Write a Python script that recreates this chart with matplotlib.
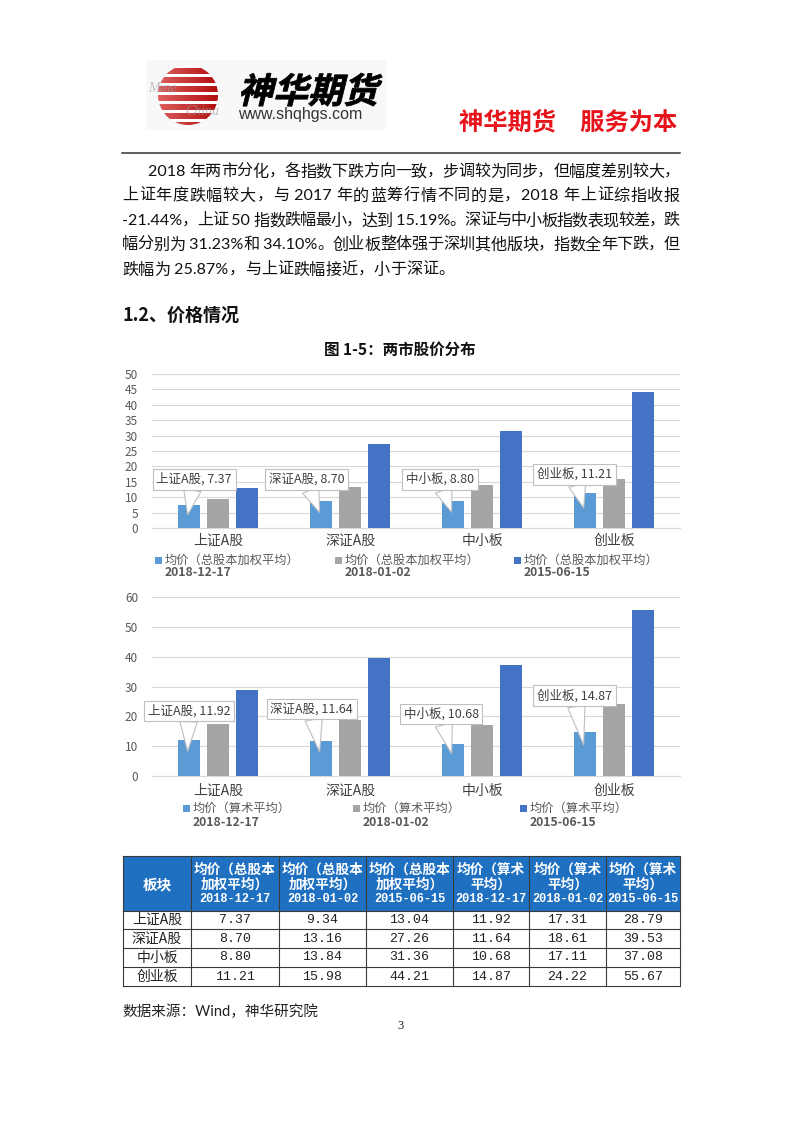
import re
import numpy as np
import matplotlib
matplotlib.use("Agg")
import matplotlib.pyplot as plt
from matplotlib.patches import Rectangle, Circle, PathPatch
from matplotlib.textpath import TextPath
from matplotlib.font_manager import FontProperties
from matplotlib.transforms import Affine2D

plt.rcParams['font.family'] = ['Noto Sans CJK SC', 'DejaVu Sans']
plt.rcParams['axes.unicode_minus'] = False

# 数据
categories = ['上证A股', '深证A股', '中小板', '创业板']
dates = ['2018-12-17', '2018-01-02', '2015-06-15']
weighted_name = '均价（总股本加权平均）'
arith_name = '均价（算术平均）'
weighted_1217 = [7.37, 8.70, 8.80, 11.21]
weighted_0102 = [9.34, 13.16, 13.84, 15.98]
weighted_0615 = [13.04, 27.26, 31.36, 44.21]
arith_1217 = [11.92, 11.64, 10.68, 14.87]
arith_0102 = [17.31, 18.61, 17.11, 24.22]
arith_0615 = [28.79, 39.53, 37.08, 55.67]

table_head = ['均价（总股本\n加权平均）'] * 3 + ['均价（算术\n平均）'] * 3
table_dates = dates * 2

paragraph = ['2018 年两市分化，各指数下跌方向一致，步调较为同步，但幅度差别较大，',
             '上证年度跌幅较大，与 2017 年的蓝筹行情不同的是，2018 年上证综指收报',
             '-21.44%，上证 50 指数跌幅最小，达到 15.19%。深证与中小板指数表现较差，跌',
             '幅分别为 31.23%和 34.10%。创业板整体强于深圳其他版块，指数全年下跌，但',
             '跌幅为 25.87%，与上证跌幅接近，小于深证。']

colors = ['#5B9BD5', '#A5A5A5', '#4472C4']
W, H = 802, 1133

fig = plt.figure(figsize=(W / 100, H / 100), dpi=100)
page = fig.add_axes([0, 0, 1, 1])
page.axis('off')
renderer = fig.canvas.get_renderer()


def px_axes(left, top, right, bottom):
    return fig.add_axes([left / W, 1 - bottom / H, (right - left) / W, (bottom - top) / H])


# 页眉 logo
page.add_patch(Rectangle((146, 60), 240, 70, fc='#F8F8F8', ec='none'))
circ = Circle((188, 95), 30, transform=page.transData)
rows = np.arange(60)
stripe = ((rows // 3) % 3 != 0).astype(float)[:, None]
grad = np.linspace(0.35, 1.0, 60)[None, :]
img = np.ones((60, 60, 3))
img[..., 0] = 1 - stripe * (1 - (0.95 - 0.25 * grad))
img[..., 1] = 1 - stripe * (1 - (0.55 - 0.5 * grad))
img[..., 2] = 1 - stripe * (1 - (0.55 - 0.5 * grad))
im = page.imshow(img, extent=(158, 218, 125, 65), aspect='auto', zorder=2)
im.set_clip_path(circ)
page.text(148, 92, 'Mine', fontsize=10, family='Liberation Serif', style='italic',
          color='#9A9A9A', alpha=0.6, zorder=3)
page.text(185, 115, 'China', fontsize=10, family='Liberation Serif', style='italic',
          color='#9A9A9A', alpha=0.6, zorder=3)

tp = TextPath((0, 0), '神华期货', size=1, prop=FontProperties(family='Noto Sans CJK SC', weight='bold'))
s = 138 / tp.get_extents().width
tr = Affine2D().skew_deg(14, 0).scale(s, -s).translate(238, 103)
page.add_patch(PathPatch(tr.transform_path(tp), fc='black', ec='black', lw=0.6, zorder=3))
page.text(238, 114, 'www.shqhgs.com', fontsize=11.5, family='Liberation Sans',
          color='#333333', va='center', zorder=3)
page.text(459, 122, '神华期货　服务为本', fontsize=17.5, weight='bold', color='#E8141B', va='center')
page.plot([122, 680], [153, 153], color='#333333', lw=1.1)

# 正文
body_font = ['Lato', 'Noto Sans CJK SC']


def put_line(text, x0, x1, y, fs, justify=True):
    toks = re.findall(r'[\x00-\x7f]+|.', text)
    objs = [page.text(0, y, t, fontsize=fs, family=body_font, va='center', ha='left', color='#111111')
            for t in toks]
    widths = [o.get_window_extent(renderer).width for o in objs]
    gap = (x1 - x0 - sum(widths)) / (len(toks) - 1) if justify else 0
    x = x0
    for o, w in zip(objs, widths):
        o.set_x(x)
        x += w + gap


line_y = [172, 196, 221, 245, 270]
for i, (txt, yy) in enumerate(zip(paragraph, line_y)):
    put_line(txt, 148 if i == 0 else 122, 680, yy, 11.6, justify=(i < len(paragraph) - 1))

page.text(122, 315, '1.2、价格情况', fontsize=13, weight='bold', va='center', color='#111111')
page.text(400, 350, '图 1-5：两市股价分布', fontsize=11.2, weight='bold', va='center', ha='center',
          color='#111111')


# 柱状图
def bar_chart(ax, series, ymax, ystep, lab_dx, lab_y, tip_frac, cat_pad):
    x = np.arange(len(categories))
    for k, vals in enumerate(series):
        ax.bar(x + (k - 1) * 0.22, vals, width=0.17, color=colors[k], zorder=3)
    ax.set_xlim(-0.5, len(categories) - 0.5)
    ax.set_ylim(0, ymax)
    ax.set_yticks(np.arange(0, ymax + 1, ystep))
    ax.set_xticks(x)
    ax.set_xticklabels(categories, fontsize=10, color='#404040')
    ax.tick_params(axis='y', length=0, pad=10, labelsize=8.5, labelcolor='#595959')
    ax.tick_params(axis='x', length=0, pad=cat_pad)
    ax.grid(axis='y', color='#D9D9D9', lw=0.8, zorder=0)
    for sp in ['top', 'right', 'left']:
        ax.spines[sp].set_visible(False)
    ax.spines['bottom'].set_color('#D9D9D9')
    for i, v in enumerate(series[0]):
        ax.annotate(f'{categories[i]}, {v:.2f}', xy=(i - 0.23, v * tip_frac),
                    xytext=(i + lab_dx[i], lab_y[i]), textcoords='data',
                    ha='center', va='center', fontsize=9, color='#404040', zorder=6,
                    bbox=dict(boxstyle='square,pad=0.3', fc='white', ec='#BFBFBF', lw=0.8),
                    arrowprops=dict(arrowstyle='wedge,tail_width=1.4', fc='white', ec='#BFBFBF',
                                    lw=0.8, shrinkA=0, shrinkB=0),
                    annotation_clip=False)


def legend(name, xs, y1, y2):
    for k, mx in enumerate(xs):
        page.add_patch(Rectangle((mx, y1 - 3.5), 7, 7, fc=colors[k], ec='none'))
        page.text(mx + 10, y1, name, fontsize=8.8, color='#595959', va='center')
        page.text(mx + 10, y2, dates[k], fontsize=8.8, color='#595959', va='center', weight='bold')


ax1 = px_axes(152, 374, 680, 528)
bar_chart(ax1, [weighted_1217, weighted_0102, weighted_0615], 50, 5,
          [-0.18, -0.33, -0.32, -0.30], [15.8, 15.8, 15.8, 17.5], 0.58, 4)
legend(weighted_name, [155, 335, 514], 560, 572)

ax2 = px_axes(152, 597, 680, 776)
bar_chart(ax2, [arith_1217, arith_0102, arith_0615], 60, 10,
          [-0.22, -0.29, -0.31, -0.30], [21.8, 22.5, 20.8, 27.0], 0.7, 6)
legend(arith_name, [183, 353, 520], 808, 823)

# 表格
col_x = [123, 191, 279, 366, 453, 529, 606, 680]
row_y = [856, 911, 929, 948, 967, 986]
page.add_patch(Rectangle((col_x[0], row_y[0]), col_x[-1] - col_x[0], row_y[1] - row_y[0],
                         fc='#1F70C1', ec='none'))
for yy in row_y:
    page.plot([col_x[0], col_x[-1]], [yy, yy], color='#3A3A3A', lw=0.8)
for xx in col_x:
    page.plot([xx, xx], [row_y[0], row_y[-1]], color='#3A3A3A', lw=0.8)
mono = ['Liberation Mono', 'Noto Sans CJK SC']
page.text((col_x[0] + col_x[1]) / 2, 884, '板块', ha='center', va='center', color='white',
          fontsize=10.5, weight='bold')
for j, (head, d) in enumerate(zip(table_head, table_dates)):
    cx = (col_x[j + 1] + col_x[j + 2]) / 2
    page.text(cx, 877, head, ha='center', va='center', color='white',
              fontsize=9.8, weight='bold', linespacing=1.05)
    page.text(cx, 899, d, ha='center', va='center', color='white',
              fontsize=8.6, weight='bold', family=mono)
columns = [weighted_1217, weighted_0102, weighted_0615, arith_1217, arith_0102, arith_0615]
for i, cat in enumerate(categories):
    cy = (row_y[i + 1] + row_y[i + 2]) / 2
    page.text((col_x[0] + col_x[1]) / 2, cy, cat, ha='center', va='center', fontsize=10, color='#222222')
    for j, col in enumerate(columns):
        page.text((col_x[j + 1] + col_x[j + 2]) / 2, cy, f'{col[i]:.2f}', ha='center', va='center',
                  fontsize=9.5, family=mono, color='#222222')

page.text(122, 1012, '数据来源：Wind，神华研究院', fontsize=10.5, va='center', color='#222222',
          family=body_font)
page.text(400, 1026, '3', fontsize=9, va='center', ha='center', family='Liberation Serif', color='#222222')

page.set_xlim(0, W)
page.set_ylim(H, 0)
fig.savefig('out.png', dpi=100, facecolor='white')
